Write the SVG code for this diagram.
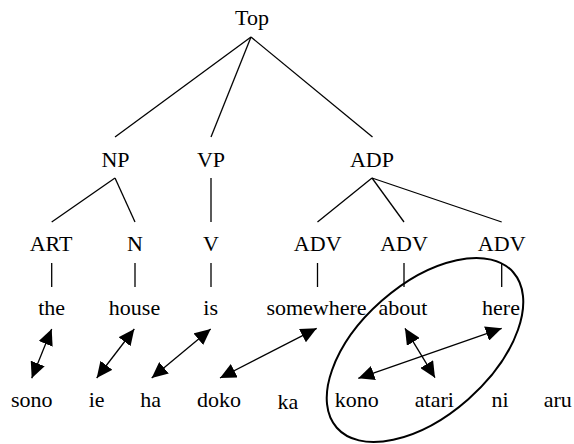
<svg xmlns="http://www.w3.org/2000/svg" width="574" height="444" viewBox="0 0 574 444">
<style>
text{font-family:"Liberation Serif","DejaVu Serif",serif;font-size:22px;fill:#000;text-anchor:middle}
.e{stroke:#000;stroke-width:1.3;fill:none}
.a{stroke:#000;stroke-width:1.3;fill:none}
</style>
<defs>
<marker id="ah" markerUnits="userSpaceOnUse" markerWidth="16" markerHeight="15" refX="16" refY="7.5" orient="auto-start-reverse" viewBox="0 0 16 15">
<path d="M0,0 L16,7.5 L0,15 z" fill="#000"/>
</marker>
</defs>
<rect width="574" height="444" fill="#fff"/>
<g id="connectors">
<line class="e" x1="251" y1="37" x2="115" y2="137"/>
<line class="e" x1="251" y1="37" x2="211" y2="137"/>
<line class="e" x1="251" y1="37" x2="372.5" y2="137"/>
<line class="e" x1="115" y1="178" x2="51.7" y2="222"/>
<line class="e" x1="115" y1="178" x2="135" y2="222"/>
<line class="e" x1="211" y1="178" x2="211" y2="222"/>
<line class="e" x1="372" y1="178" x2="317.5" y2="222"/>
<line class="e" x1="372" y1="178" x2="404" y2="222"/>
<line class="e" x1="372" y1="178" x2="501.7" y2="222"/>
<line class="e" x1="51.7" y1="263" x2="51.7" y2="287"/>
<line class="e" x1="135" y1="263" x2="135" y2="287"/>
<line class="e" x1="211" y1="263" x2="211" y2="287"/>
<line class="e" x1="317.5" y1="263" x2="317.5" y2="287"/>
<line class="e" x1="404" y1="263" x2="404" y2="287"/>
<line class="e" x1="501.7" y1="263" x2="501.7" y2="287"/>
<line class="a" x1="51.7" y1="329" x2="31.7" y2="378.3" marker-start="url(#ah)" marker-end="url(#ah)"/>
<line class="a" x1="134.3" y1="329" x2="96.7" y2="378" marker-start="url(#ah)" marker-end="url(#ah)"/>
<line class="a" x1="210.7" y1="329" x2="151.7" y2="378" marker-start="url(#ah)" marker-end="url(#ah)"/>
<line class="a" x1="316.7" y1="328.3" x2="220" y2="378" marker-start="url(#ah)" marker-end="url(#ah)"/>
<line class="a" x1="405" y1="328.3" x2="435" y2="377.7" marker-start="url(#ah)" marker-end="url(#ah)"/>
<line class="a" x1="501.7" y1="328.3" x2="358.3" y2="378.3" marker-start="url(#ah)" marker-end="url(#ah)"/>
</g>
<g id="top"><text x="252" y="25">Top</text></g>
<g id="np"><text x="115.5" y="167">NP</text></g>
<g id="vp"><text x="211" y="167">VP</text></g>
<g id="adp"><text x="372" y="167">ADP</text></g>
<g id="art"><text x="51" y="250.7">ART</text></g>
<g id="n"><text x="135" y="250.7">N</text></g>
<g id="v"><text x="211" y="250.7">V</text></g>
<g id="adv1"><text x="317.7" y="250.7">ADV</text></g>
<g id="adv2"><text x="404" y="250.7">ADV</text></g>
<g id="adv3"><text x="501.7" y="250.7">ADV</text></g>
<g id="the"><text x="51.7" y="315">the</text></g>
<g id="house"><text x="134.5" y="315">house</text></g>
<g id="is"><text x="210.7" y="315">is</text></g>
<g id="somewhere"><text x="316.5" y="315">somewhere</text></g>
<g id="about"><text x="403" y="315">about</text></g>
<g id="here"><text x="501" y="315">here</text></g>
<g id="sono"><text x="31.7" y="406.7">sono</text></g>
<g id="ie"><text x="96.7" y="406.7">ie</text></g>
<g id="ha"><text x="150.7" y="406.7">ha</text></g>
<g id="doko"><text x="219" y="406.7">doko</text></g>
<g id="ka"><text x="288" y="408.5">ka</text></g>
<g id="kono"><text x="356.7" y="406.7">kono</text></g>
<g id="atari"><text x="434.3" y="406.7">atari</text></g>
<g id="ni"><text x="500" y="406.7">ni</text></g>
<g id="aru"><text x="557.7" y="406.7">aru</text></g>
<g id="group-ellipse"><ellipse cx="425" cy="350" rx="117.6" ry="65.5" transform="rotate(-41.4 425 350)" fill="none" stroke="#000" stroke-width="2"/></g>
</svg>
